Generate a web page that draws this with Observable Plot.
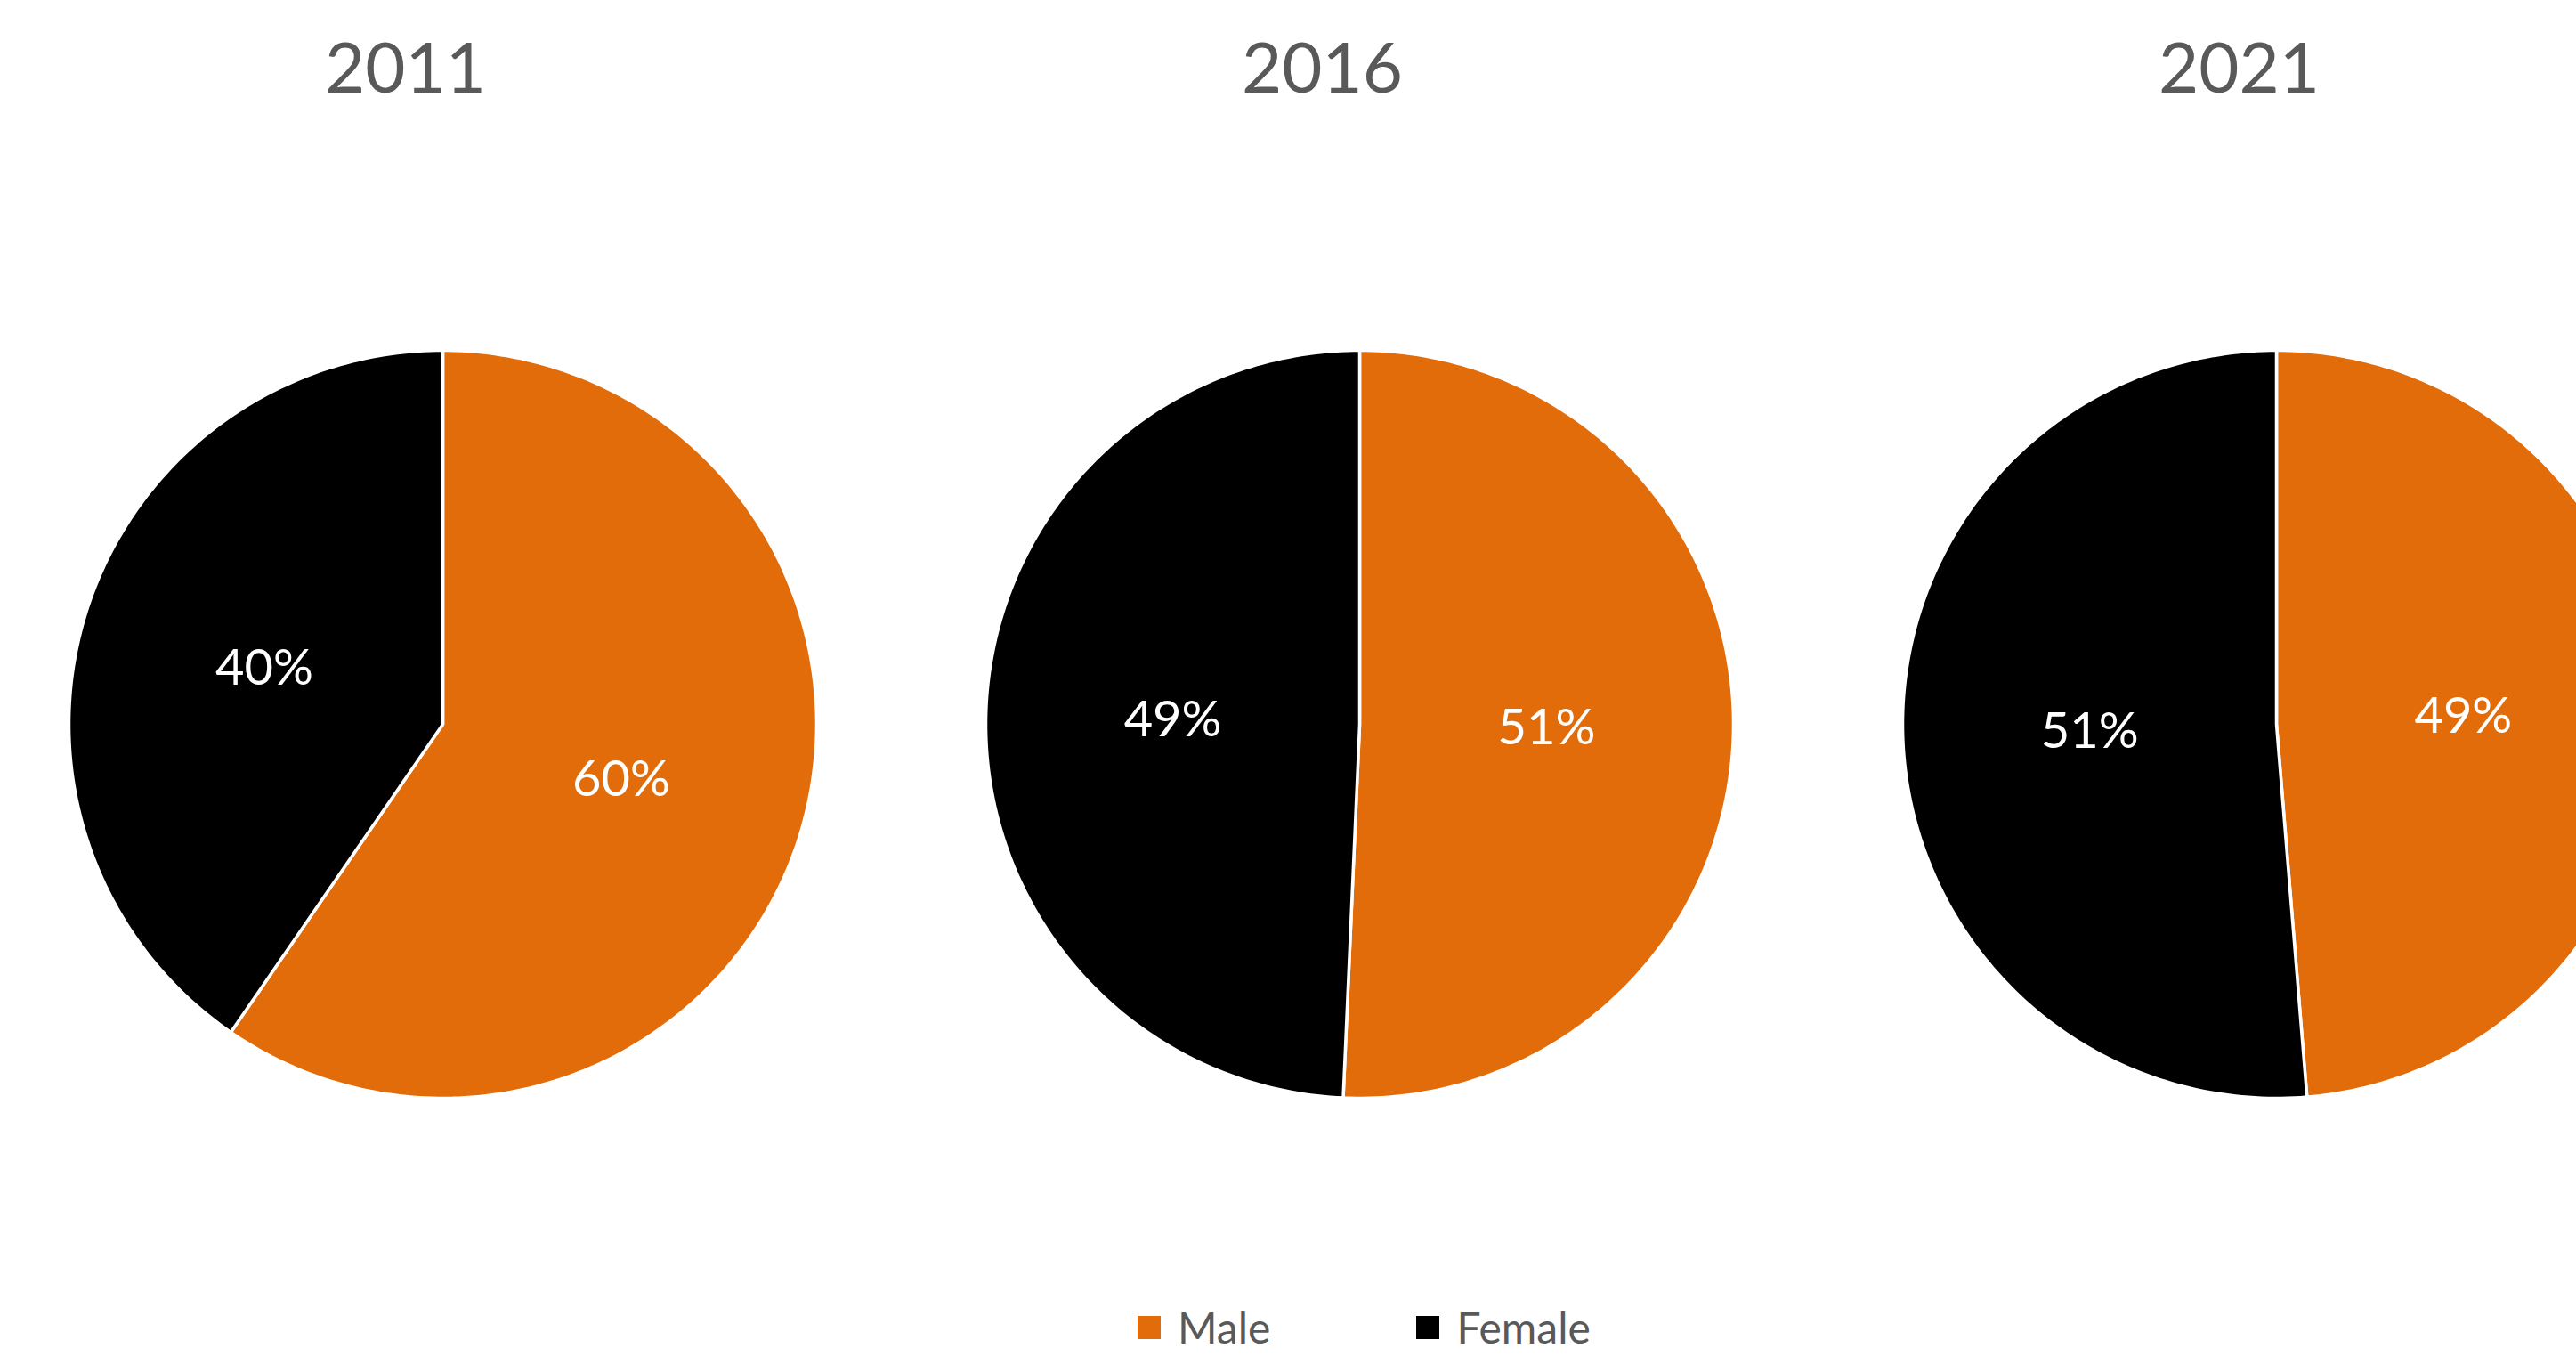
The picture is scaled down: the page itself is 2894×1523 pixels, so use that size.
<!DOCTYPE html>
<html>
<head>
<meta charset="utf-8">
<script src="https://cdn.jsdelivr.net/npm/d3@7"></script>
<script src="https://cdn.jsdelivr.net/npm/@observablehq/plot@0.6"></script>
<style>
  html, body { margin: 0; padding: 0; background: #ffffff; overflow: hidden; }
  #chart { position: relative; width: 2894px; height: 1523px; }
  #legend { position: absolute; left: 1278px; top: 1462px; display: flex; align-items: center;
            font-family: Lato, "Open Sans", sans-serif; font-size: 48px; color: #595959; }
  .item { display: flex; align-items: center; }
  .sw { width: 26px; height: 26px; margin-right: 19px; }
</style>
</head>
<body>
<div id="chart"></div>
<script>
// ---- data ----
const years = ["2011", "2016", "2021"];
const categories = ["Male", "Female"];
const male = [59.6, 50.7, 48.7];
const female = [40.4, 49.3, 51.3];
const colors = ["#E36C0A", "#000000"];

// ---- layout ----
const W = 2894, H = 1440;
const R = 420;                 // pixels per unit (pie radius)
const spacing = 1030 / R;      // distance between pie centres, in radii
const x0 = -497 / R, y1 = 813 / R;
const xDomain = [x0, x0 + W / R];
const yDomain = [y1 - H / R, y1];

const pieGen = d3.pie().sort(null).value(d => d.value);
const slices = [];
const labels = [];
years.forEach((year, i) => {
  const vals = [male[i], female[i]];
  const arcs = pieGen(categories.map((c, j) => ({sex: c, value: vals[j]})));
  const cx = i * spacing;
  arcs.forEach(a => {
    const key = year + "-" + a.data.sex;
    slices.push({key, sex: a.data.sex, x: cx, y: 0});
    const n = Math.max(2, Math.ceil((a.endAngle - a.startAngle) / (2 * Math.PI) * 360));
    for (let k = 0; k <= n; ++k) {
      const t = a.startAngle + (a.endAngle - a.startAngle) * k / n;
      slices.push({key, sex: a.data.sex, x: cx + Math.sin(t), y: Math.cos(t)});
    }
    const m = (a.startAngle + a.endAngle) / 2;
    const lr = 0.5;
    labels.push({x: cx + lr * Math.sin(m), y: lr * Math.cos(m), text: Math.round(a.data.value) + "%"});
  });
});
const titles = years.map((year, i) => ({x: i * spacing - 0.1, y: 1.69, text: year}));

const plot = Plot.plot({
  width: W,
  height: H,
  margin: 0,
  x: {domain: xDomain, axis: null},
  y: {domain: yDomain, axis: null},
  color: {domain: categories, range: colors},
  style: {background: "white", fontFamily: "Lato, 'Open Sans', sans-serif"},
  marks: [
    Plot.line(slices, {x: "x", y: "y", z: "key", fill: "sex", stroke: "white", strokeWidth: 3.5,
                        strokeLinejoin: "round", curve: "linear-closed"}),
    Plot.text(labels, {x: "x", y: "y", text: "text", fill: "white", fontSize: 56}),
    Plot.text(titles, {x: "x", y: "y", text: "text", fill: "#595959", fontSize: 78, lineAnchor: "bottom"})
  ]
});
const chart = document.getElementById("chart");
chart.appendChild(plot);

const legend = document.createElement("div");
legend.id = "legend";
categories.forEach((c, j) => {
  const item = document.createElement("div");
  item.className = "item";
  if (j > 0) item.style.marginLeft = "164px";
  const sw = document.createElement("div");
  sw.className = "sw";
  sw.style.background = colors[j];
  const lab = document.createElement("span");
  lab.textContent = c;
  item.appendChild(sw);
  item.appendChild(lab);
  legend.appendChild(item);
});
chart.appendChild(legend);
</script>
</body>
</html>
